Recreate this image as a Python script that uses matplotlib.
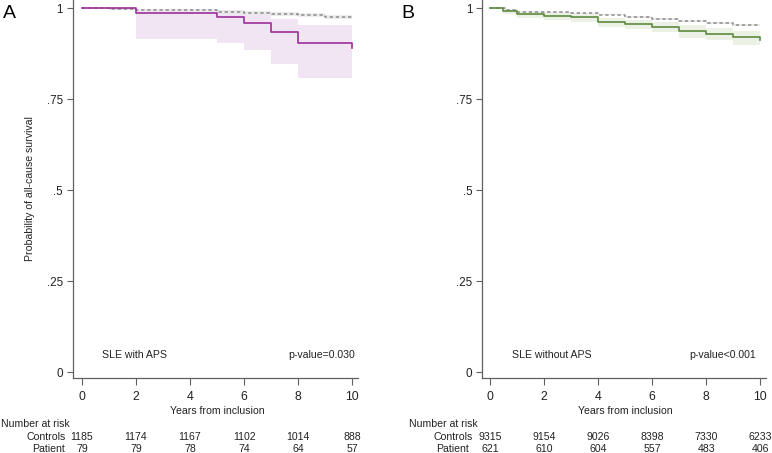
import numpy as np
import matplotlib
matplotlib.use('Agg')
import matplotlib.pyplot as plt
import matplotlib.transforms as mtransforms

plt.rcParams['font.family'] = ['Liberation Sans', 'DejaVu Sans']

# --- Panel A: SLE with APS ---
a_pat_t = [0, 2, 5, 6, 7, 8, 10]
a_pat_s = [1.0, 0.986, 0.974, 0.960, 0.933, 0.903, 0.889]
a_pat_lo = [1.0, 0.914, 0.903, 0.885, 0.847, 0.809, 0.809]
a_pat_hi = [1.0, 0.998, 0.995, 0.988, 0.971, 0.953, 0.953]

a_ctl_t = [0, 1, 2, 3, 4, 5, 6, 7, 8, 9, 10]
a_ctl_s = [1.0, 0.998, 0.995, 0.995, 0.994, 0.989, 0.987, 0.984, 0.980, 0.976, 0.976]
a_ctl_lo = [1.0, 0.995, 0.991, 0.991, 0.990, 0.984, 0.982, 0.978, 0.974, 0.970, 0.970]
a_ctl_hi = [1.0, 1.0, 0.998, 0.998, 0.997, 0.993, 0.991, 0.989, 0.985, 0.981, 0.981]

# --- Panel B: SLE without APS ---
b_pat_t = [0, 0.49, 1, 2, 3, 4, 5, 6, 7, 8, 9, 10]
b_pat_s = [1.0, 0.992, 0.984, 0.979, 0.974, 0.962, 0.956, 0.949, 0.937, 0.930, 0.920, 0.912]
b_pat_lo = [1.0, 0.983, 0.973, 0.967, 0.961, 0.947, 0.941, 0.933, 0.919, 0.911, 0.899, 0.893]
b_pat_hi = [1.0, 0.997, 0.992, 0.988, 0.984, 0.973, 0.968, 0.962, 0.952, 0.946, 0.937, 0.933]

b_ctl_t = [0, 0.55, 1, 2, 3, 4, 5, 6, 7, 8, 9, 10]
b_ctl_s = [1.0, 0.995, 0.990, 0.988, 0.985, 0.982, 0.976, 0.970, 0.965, 0.958, 0.953, 0.953]
b_ctl_lo = [1.0, 0.993, 0.988, 0.986, 0.983, 0.980, 0.973, 0.967, 0.962, 0.955, 0.950, 0.950]
b_ctl_hi = [1.0, 0.997, 0.992, 0.990, 0.987, 0.984, 0.979, 0.973, 0.968, 0.961, 0.956, 0.956]

risk_t = [0, 2, 4, 6, 8, 10]
a_risk_ctl = [1185, 1174, 1167, 1102, 1014, 888]
a_risk_pat = [79, 79, 78, 74, 64, 57]
b_risk_ctl = [9315, 9154, 9026, 8398, 7330, 6233]
b_risk_pat = [621, 610, 604, 557, 483, 406]

W, H = 772, 453
fig = plt.figure(figsize=(W / 100, H / 100), dpi=100)

spine_col = '#606060'
txt_col = '#222222'
fs = 7.6


def fy(px):
    return 1 - px / H


def panel(left_px, right_px, xlo, letter, letter_x, pat, ctl, col, band_col,
          group, pval, group_x, pval_x, risk_ctl, risk_pat, lab_x, ylabel):
    ax = fig.add_axes([left_px / W, fy(378), (right_px - left_px) / W, 378 / H])
    pt, ps, plo, phi = pat
    ct, cs, clo, chi = ctl
    ax.fill_between(pt, plo, phi, step='post', color=band_col, lw=0, zorder=1)
    ax.fill_between(ct, clo, chi, step='post', color='#ececec', lw=0, zorder=2)
    ax.step(ct, cs, where='post', color='#8c8c8c', lw=1.1, ls=(0, (2.2, 1.8)), zorder=3)
    ax.step(pt, ps, where='post', color=col, lw=1.2, zorder=4)

    ax.set_xlim(xlo, 10.22)
    ax.set_ylim(-0.016, 1.022)
    ax.set_xticks([0, 2, 4, 6, 8, 10])
    ax.set_yticks([0, 0.25, 0.5, 0.75, 1])
    ax.set_yticklabels(['0', '.25', '.5', '.75', '1'])
    for s in ['top', 'right']:
        ax.spines[s].set_visible(False)
    for s in ['left', 'bottom']:
        ax.spines[s].set_color(spine_col)
        ax.spines[s].set_linewidth(0.9)
    ax.tick_params(axis='x', length=5, width=0.8, color=spine_col, labelsize=8.8,
                   pad=4, labelcolor=txt_col)
    ax.tick_params(axis='y', length=4, width=0.8, color=spine_col, labelsize=8.4,
                   pad=3, labelcolor=txt_col)
    if ylabel:
        ax.set_ylabel('Probability of all-cause survival', fontsize=fs, color=txt_col)
        ax.yaxis.set_label_coords(-0.13, 0.5)

    ax.text(group_x, 0.048, group, fontsize=fs, color=txt_col, ha='left', va='center')
    ax.text(pval_x, 0.048, pval, fontsize=fs, color=txt_col, ha='right', va='center')

    tr = mtransforms.blended_transform_factory(ax.transData, fig.transFigure)
    ax.text(5, fy(411), 'Years from inclusion', transform=tr, fontsize=fs,
            ha='center', va='center', color=txt_col)
    ax.text(-3.0, fy(424), 'Number at risk', transform=tr, fontsize=fs,
            ha='left', va='center', color=txt_col)
    ax.text(lab_x[0], fy(437), 'Controls', transform=tr, fontsize=fs,
            ha='right', va='center', color=txt_col)
    ax.text(lab_x[1], fy(449), 'Patient', transform=tr, fontsize=fs,
            ha='right', va='center', color=txt_col)
    for t, c, p in zip(risk_t, risk_ctl, risk_pat):
        ax.text(t, fy(437), str(c), transform=tr, fontsize=fs,
                ha='center', va='center', color=txt_col)
        ax.text(t, fy(449), str(p), transform=tr, fontsize=fs,
                ha='center', va='center', color=txt_col)

    fig.text(letter_x / W, fy(13), letter, fontsize=14, ha='left', va='center')
    return ax


panel(72.5, 358, -0.35, 'A', 3,
      (a_pat_t, a_pat_s, a_pat_lo, a_pat_hi),
      (a_ctl_t, a_ctl_s, a_ctl_lo, a_ctl_hi),
      '#9b2f9b', '#f2e5f3', 'SLE with APS', 'p-value=0.030', 0.74, 10.1,
      a_risk_ctl, a_risk_pat, (-0.6, -0.65), True)

panel(482, 766, -0.30, 'B', 401,
      (b_pat_t, b_pat_s, b_pat_lo, b_pat_hi),
      (b_ctl_t, b_ctl_s, b_ctl_lo, b_ctl_hi),
      '#5e8a3e', '#ecf1e6', 'SLE without APS', 'p-value<0.001', 0.81, 9.85,
      b_risk_ctl, b_risk_pat, (-0.63, -0.8), False)

fig.savefig('out.png', dpi=100)
